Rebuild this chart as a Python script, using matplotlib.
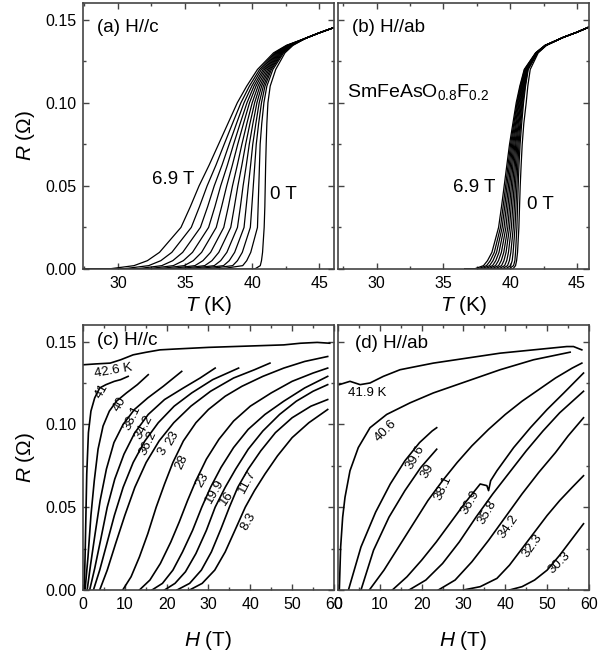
import matplotlib
matplotlib.use('Agg')
import matplotlib.pyplot as plt
from matplotlib.ticker import MultipleLocator, FormatStrFormatter

plt.rcParams['font.family'] = ['Liberation Sans', 'DejaVu Sans']
plt.rcParams['mathtext.fontset'] = 'custom'
plt.rcParams['mathtext.rm'] = 'Liberation Sans'
plt.rcParams['mathtext.it'] = 'Liberation Sans:italic'

# ---------------- (a) H//c : R(T) curves, 6.9 T (left) ... 0 T (right)
# T read at each R level, one row per level
A_R_LEVELS = [0, 0.002, 0.005, 0.01, 0.025, 0.0375, 0.05, 0.0625, 0.075,
              0.0875, 0.1, 0.11, 0.12, 0.13, 0.1345]
A_T_AT_R = [
    [29.3, 30.3, 31.3, 32.1, 32.9, 33.7, 34.4, 35.1, 35.8, 36.6, 37.6, 40.2],
    [31.2, 32.29, 33.27, 34.13, 34.94, 35.74, 36.47, 37.18, 37.87, 38.55, 39.3, 40.61],
    [32.2, 33.2, 34.09, 34.88, 35.62, 36.34, 37.01, 37.66, 38.3, 38.91, 39.6, 40.7],
    [33.1, 34.02, 34.83, 35.56, 36.24, 36.91, 37.52, 38.12, 38.7, 39.27, 39.9, 40.78],
    [34.7, 35.47, 36.15, 36.76, 37.33, 37.89, 38.41, 38.91, 39.4, 39.87, 40.4, 40.9],
    [35.4, 36.08, 36.69, 37.23, 37.73, 38.23, 38.68, 39.13, 39.56, 39.98, 40.45, 40.95],
    [36.05, 36.65, 37.18, 37.66, 38.11, 38.54, 38.94, 39.33, 39.72, 40.09, 40.5, 40.98],
    [36.8, 37.31, 37.76, 38.16, 38.53, 38.9, 39.24, 39.57, 39.89, 40.2, 40.55, 41.01],
    [37.5, 37.92, 38.29, 38.62, 38.93, 39.24, 39.52, 39.79, 40.05, 40.31, 40.6, 41.05],
    [38.2, 38.54, 38.84, 39.11, 39.36, 39.61, 39.84, 40.06, 40.28, 40.49, 40.72, 41.1],
    [38.9, 39.17, 39.4, 39.62, 39.81, 40.01, 40.19, 40.36, 40.53, 40.7, 40.88, 41.18],
    [39.6, 39.8, 39.98, 40.14, 40.29, 40.44, 40.58, 40.71, 40.84, 40.96, 41.1, 41.35],
    [40.4, 40.56, 40.69, 40.82, 40.93, 41.04, 41.15, 41.25, 41.35, 41.44, 41.55, 41.76],
    [41.6, 41.7, 41.79, 41.87, 41.95, 42.02, 42.09, 42.15, 42.22, 42.28, 42.35, 42.45],
    [42.55, 42.6, 42.65, 42.7, 42.74, 42.78, 42.82, 42.86, 42.9, 42.94, 42.98, 43.05],
]
A_T_START = 27.4
A_TAIL_T = [44.0, 45.0, 46.1]
A_TAIL_R = [0.1388, 0.1420, 0.1452]

# ---------------- (b) H//ab
B_R_LEVELS = A_R_LEVELS
B_T_AT_R = [
    [37.3, 37.56, 37.82, 38.08, 38.34, 38.6, 38.86, 39.12, 39.38, 39.64, 39.9, 40.2],
    [38.0, 38.23, 38.45, 38.68, 38.9, 39.13, 39.35, 39.58, 39.8, 40.03, 40.25, 40.4],
    [38.3, 38.51, 38.71, 38.92, 39.12, 39.33, 39.53, 39.74, 39.94, 40.15, 40.35, 40.48],
    [38.63, 38.81, 38.98, 39.16, 39.34, 39.52, 39.69, 39.87, 40.05, 40.22, 40.4, 40.55],
    [39.13, 39.27, 39.4, 39.54, 39.68, 39.82, 39.95, 40.09, 40.23, 40.36, 40.5, 40.65],
    [39.35, 39.47, 39.59, 39.71, 39.83, 39.95, 40.07, 40.19, 40.31, 40.43, 40.55, 40.7],
    [39.55, 39.66, 39.76, 39.87, 39.97, 40.08, 40.18, 40.29, 40.39, 40.5, 40.6, 40.75],
    [39.75, 39.84, 39.93, 40.02, 40.11, 40.2, 40.3, 40.39, 40.48, 40.57, 40.66, 40.82],
    [39.95, 40.03, 40.11, 40.19, 40.27, 40.35, 40.42, 40.5, 40.58, 40.66, 40.74, 40.9],
    [40.2, 40.27, 40.33, 40.4, 40.46, 40.53, 40.6, 40.66, 40.73, 40.79, 40.86, 41.02],
    [40.45, 40.51, 40.56, 40.62, 40.67, 40.73, 40.78, 40.84, 40.89, 40.95, 41.0, 41.2],
    [40.72, 40.76, 40.81, 40.85, 40.89, 40.94, 40.98, 41.02, 41.06, 41.11, 41.15, 41.32],
    [41.05, 41.08, 41.11, 41.14, 41.17, 41.2, 41.23, 41.26, 41.29, 41.32, 41.35, 41.5],
    [41.9, 41.92, 41.93, 41.95, 41.96, 41.98, 41.99, 42.01, 42.02, 42.04, 42.05, 42.1],
    [42.6, 42.61, 42.62, 42.63, 42.64, 42.65, 42.66, 42.67, 42.68, 42.69, 42.7, 42.72],
]
B_T_START = 36.6
B_TAIL_T = [44.0, 45.0, 45.9]
B_TAIL_R = [0.1394, 0.1424, 0.1455]

# ---------------- (c) H//c : R(H) at fixed T
C_TEMPS = ['42.6', '41', '40', '38.1', '36.2', '34.2', '32.3',
           '28', '23', '19.9', '16', '11.7', '8.3']
C_H = [
    [0.1, 3, 6.5, 9, 12, 15, 18.4, 22, 26, 30, 36, 42, 48, 52, 56, 59],
    [0.3, 0.5, 0.7, 0.9, 1.3, 1.9, 2.8, 4.0, 5.5, 7.5, 9.0, 10.8],
    [0.5, 1.2, 1.9, 2.7, 3.6, 4.8, 6.3, 8.0, 10.4, 13.0, 15.6],
    [1.0, 1.8, 2.9, 4.1, 5.6, 7.4, 9.6, 12.3, 15.5, 19.2, 23.6],
    [1.6, 2.8, 4.2, 5.8, 7.6, 9.8, 12.4, 15.6, 19.5, 24, 28, 31.6],
    [2.5, 4.0, 5.6, 7.5, 9.6, 12.0, 14.8, 18, 21.8, 26, 31, 37.2],
    [4.0, 5.8, 7.8, 10, 12.4, 15.1, 18.2, 21.7, 25.8, 30.5, 36, 41, 44.7],
    [9.5, 11.5, 13.5, 15.5, 17.5, 19.5, 21.5, 24, 27, 30, 34, 38, 43, 48, 53, 58.5],
    [13.5, 16, 18.5, 21, 23, 25, 27, 29.5, 32.5, 36, 40, 45, 50, 55, 58.5],
    [16.5, 19, 21.5, 23.8, 26.2, 28.4, 30.5, 33, 36, 39.5, 43.5, 48, 53, 58.5],
    [19.5, 22, 24.5, 27, 29.5, 31.6, 34, 36.5, 39.5, 43, 47, 51, 55, 58.5],
    [22.5, 25.5, 28.3, 30.7, 33, 35, 37, 39.5, 42.5, 46, 50, 54.5, 58.5],
    [25.5, 28.5, 31.5, 34, 36.5, 38.8, 41, 43.5, 46.5, 50, 54, 58.5],
]
C_R = [
    [0.136, 0.1365, 0.137, 0.139, 0.142, 0.1435, 0.145, 0.1455, 0.146, 0.1465,
     0.147, 0.1475, 0.148, 0.149, 0.1495, 0.149],
    [0, 0.02, 0.045, 0.07, 0.095, 0.108, 0.116, 0.122, 0.124, 0.126, 0.127, 0.129],
    [0, 0.02, 0.045, 0.066, 0.085, 0.099, 0.108, 0.114, 0.119, 0.124, 0.13],
    [0, 0.015, 0.034, 0.054, 0.073, 0.089, 0.1, 0.109, 0.116, 0.123, 0.132],
    [0, 0.013, 0.03, 0.05, 0.067, 0.082, 0.095, 0.106, 0.115, 0.122, 0.128, 0.134],
    [0, 0.012, 0.027, 0.045, 0.062, 0.077, 0.09, 0.101, 0.111, 0.119, 0.127, 0.134],
    [0, 0.012, 0.028, 0.045, 0.062, 0.077, 0.09, 0.101, 0.111, 0.12, 0.128, 0.133, 0.137],
    [0, 0.008, 0.02, 0.034, 0.05, 0.064, 0.077, 0.09, 0.101, 0.109, 0.117, 0.123,
     0.129, 0.134, 0.138, 0.141],
    [0, 0.006, 0.016, 0.029, 0.041, 0.054, 0.066, 0.079, 0.091, 0.102, 0.111, 0.119,
     0.126, 0.131, 0.134],
    [0, 0.004, 0.012, 0.023, 0.036, 0.05, 0.062, 0.074, 0.086, 0.097, 0.106, 0.114,
     0.122, 0.129],
    [0, 0.004, 0.011, 0.022, 0.036, 0.05, 0.062, 0.073, 0.085, 0.096, 0.106, 0.114,
     0.12, 0.124],
    [0, 0.004, 0.012, 0.023, 0.037, 0.05, 0.062, 0.073, 0.084, 0.095, 0.104, 0.111, 0.115],
    [0, 0.004, 0.012, 0.023, 0.037, 0.05, 0.06, 0.07, 0.081, 0.092, 0.101, 0.109],
]

# ---------------- (d) H//ab : R(H) at fixed T
D_TEMPS = ['41.9', '40.6', '39.6', '39', '38.1', '36.9', '35.8', '34.2', '32.3', '30.3']
D_H = [
    [0.32, 2.87, 5.3, 7.66, 10.84, 14.83, 18.8, 22.81, 26.8, 30.78, 34.77, 38.76,
     42.74, 46.73, 50.72, 54.71, 56.3, 58.29],
    [0.32, 0.64, 1.12, 1.68, 2.87, 4.86, 7.66, 11.64, 17.23, 22.81, 30.78, 38.76,
     46.73, 55.5],
    [2.5, 5.5, 9.0, 12.5, 16.0, 19.5, 22.5, 23.6],
    [5.5, 8.5, 12.2, 16.0, 19.8, 23.6],
    [7.5, 11, 14.5, 18, 21.5, 25, 28.5, 32, 36, 40, 44, 48, 52, 56, 58.3],
    [13, 16.5, 20, 23.5, 27, 30.5, 34, 35.6, 36.0, 36.5, 38, 42, 46, 50, 54, 58.7],
    [17, 21, 25, 29, 33, 37, 41, 45, 49, 53, 58.7],
    [24, 28, 32, 36, 40, 44, 48, 52, 55, 58.7],
    [30, 34, 38, 41, 44, 47, 50, 53, 56, 58.7],
    [41, 44, 47, 50, 53, 56, 58.7],
]
D_R = [
    [0.124, 0.126, 0.124, 0.125, 0.129, 0.133, 0.135, 0.137, 0.1385, 0.140, 0.1415,
     0.143, 0.144, 0.145, 0.146, 0.147, 0.147, 0.145],
    [0, 0.026, 0.044, 0.056, 0.072, 0.086, 0.098, 0.106, 0.113, 0.119, 0.126, 0.133,
     0.139, 0.1436],
    [0, 0.026, 0.047, 0.064, 0.078, 0.089, 0.096, 0.098],
    [0, 0.024, 0.044, 0.060, 0.074, 0.085],
    [0, 0.012, 0.026, 0.04, 0.054, 0.066, 0.077, 0.087, 0.097, 0.106, 0.114, 0.121,
     0.128, 0.134, 0.137],
    [0, 0.008, 0.018, 0.029, 0.041, 0.053, 0.064, 0.063, 0.060, 0.066, 0.072, 0.086,
     0.098, 0.109, 0.119, 0.131],
    [0, 0.006, 0.016, 0.029, 0.044, 0.058, 0.071, 0.084, 0.096, 0.107, 0.12],
    [0, 0.006, 0.017, 0.03, 0.044, 0.058, 0.071, 0.083, 0.093, 0.104],
    [0, 0.002, 0.007, 0.015, 0.025, 0.035, 0.045, 0.054, 0.062, 0.069],
    [0, 0.002, 0.006, 0.012, 0.021, 0.031, 0.04],
]

# curve labels: text, x, y, rotation
C_LABELS = [('42.6 K', 7.2, 0.1326, 10), ('41', 4.5, 0.120, 60), ('40', 8.9, 0.112, 60),
            ('38.1', 11.7, 0.104, 65), ('34.2', 14.6, 0.098, 62), ('36.2', 15.6, 0.089, 65),
            ('3', 19.1, 0.084, 60), ('23', 21.3, 0.092, 60), ('28', 23.7, 0.0774, 65),
            ('23', 28.5, 0.0666, 60), ('19.9', 31.4, 0.0594, 60), ('16', 34.4, 0.0552, 55),
            ('11.7', 39.2, 0.0654, 62), ('8.3', 39.5, 0.0414, 60)]
D_LABELS = [('41.9 K', 6.9, 0.1188, 0), ('40.6', 11.4, 0.096, 45), ('39.6', 18.4, 0.080, 60),
            ('39', 21.5, 0.072, 60), ('38.1', 25.1, 0.0618, 65), ('36.9', 31.6, 0.053, 60),
            ('35.8', 35.6, 0.047, 60), ('34.2', 40.7, 0.0384, 55), ('32.3', 46.4, 0.027, 55),
            ('30.3', 52.9, 0.0162, 45)]


def style(ax, xmaj, xmin, left_labels):
    ax.xaxis.set_major_locator(MultipleLocator(xmaj))
    ax.xaxis.set_minor_locator(MultipleLocator(xmin))
    ax.yaxis.set_major_locator(MultipleLocator(0.05))
    ax.yaxis.set_minor_locator(MultipleLocator(0.025))
    ax.yaxis.set_major_formatter(FormatStrFormatter('%.2f'))
    ax.tick_params(which='both', direction='in', top=True, right=True,
                   color='#444444', labelsize=11.5, pad=5, labelleft=left_labels)
    ax.tick_params(which='major', length=4, width=1)
    ax.tick_params(which='minor', length=2.5, width=1)
    for s in ax.spines.values():
        s.set_linewidth(1.2)
        s.set_color('#444444')
    ax.set_ylim(0, 0.16)


def draw_rt(ax, levels, table, t_start, tail_t, tail_r):
    n = len(table[0])
    for j in range(n):
        t = [t_start] + [row[j] for row in table] + tail_t
        r = [0] + levels + tail_r
        ax.plot(t, r, color='black', lw=0.9)


fig = plt.figure(figsize=(6, 6.57), dpi=100)
ax_a = fig.add_axes([0.1383, 0.5906, 0.4183, 0.4049])
ax_b = fig.add_axes([0.5633, 0.5906, 0.4183, 0.4049])
ax_c = fig.add_axes([0.1383, 0.1020, 0.4183, 0.4033])
ax_d = fig.add_axes([0.5633, 0.1020, 0.4183, 0.4033])

draw_rt(ax_a, A_R_LEVELS, A_T_AT_R, A_T_START, A_TAIL_T, A_TAIL_R)
draw_rt(ax_b, B_R_LEVELS, B_T_AT_R, B_T_START, B_TAIL_T, B_TAIL_R)
ax_a.set_xlim(27.4, 46.1)
ax_b.set_xlim(27.1, 45.9)
style(ax_a, 5, 2.5, True)
style(ax_b, 5, 2.5, False)

for h, r in zip(C_H, C_R):
    ax_c.plot(h, r, color='black', lw=1.2)
for h, r in zip(D_H, D_R):
    ax_d.plot(h, r, color='black', lw=1.2)
for ax in (ax_c, ax_d):
    ax.set_xlim(0, 60)
    style(ax, 10, 5, ax is ax_c)

for txt, x, y, rot in C_LABELS:
    ax_c.text(x, y, txt, fontsize=9.5, rotation=rot, rotation_mode='anchor',
              ha='center', va='center')
for txt, x, y, rot in D_LABELS:
    ax_d.text(x, y, txt, fontsize=9.5, rotation=rot, rotation_mode='anchor',
              ha='center', va='center')

ax_a.text(0.056, 0.906, '(a) H//c', transform=ax_a.transAxes, fontsize=13.5, va='center')
ax_b.text(0.056, 0.906, '(b) H//ab', transform=ax_b.transAxes, fontsize=13.5, va='center')
ax_c.text(0.056, 0.94, '(c) H//c', transform=ax_c.transAxes, fontsize=13.5, va='center')
ax_d.text(0.068, 0.932, '(d) H//ab', transform=ax_d.transAxes, fontsize=13.5, va='center')

ax_a.text(32.53, 0.054, '6.9 T', fontsize=13.5, va='center')
ax_a.text(41.36, 0.045, '0 T', fontsize=13.5, va='center')
ax_b.text(35.75, 0.0489, '6.9 T', fontsize=13.5, va='center')
ax_b.text(41.26, 0.039, '0 T', fontsize=13.5, va='center')
ax_b.text(27.8, 0.1032, r'SmFeAsO$_{0.8}$F$_{0.2}$', fontsize=14, va='baseline')

for ax in (ax_a, ax_b):
    ax.set_xlabel(r'$T$ (K)', fontsize=15, labelpad=2)
for ax in (ax_c, ax_d):
    ax.set_xlabel(r'$H$ (T)', fontsize=15, labelpad=12)
for ax in (ax_a, ax_c):
    ax.set_ylabel(r'$R$ (Ω)', fontsize=15, labelpad=6)

fig.savefig('out.png', dpi=100)
